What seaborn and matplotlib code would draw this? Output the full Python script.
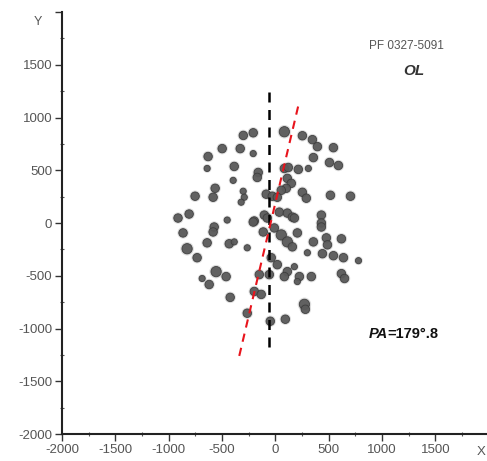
import matplotlib
matplotlib.use("Agg")
import matplotlib.pyplot as plt
import seaborn as sns
import pandas as pd
from matplotlib.ticker import MultipleLocator, FixedLocator

# Galaxy positions in the cluster field (x, y) and relative marker size class
x_pos = [-300, -207, -498, -329, -207, -630, -639, -385, -160, -169, -395, -564, -583,
         -301, -291, -320, -752, -85, -28, -912, -808, -451, -103, -197,
         85, 254, 348, 395, 545, 357, 508, 592, 85, 122, 216, 310, 113, 150, 103, 56,
         254, 291, 517, 705, 19, 38, 113, 160, 432, 432, -75, -207,
         -573, -583, -865, -639, -432, -385, -827, -733, -263, -113, -38, -555, -461,
         -686, -620, -150, -423, -197, -132, -263, -47,
         179, -9, 56, 207, 113, 160, 432, 357, 479, 489, 620, 301, 442, 545, 639, 780,
         19, 179, 113, -56, 85, 226, 338, 207, 620, 649, 273, 282, 94]
y_pos = [830, 855, 705, 705, 658, 630, 517, 536, 479, 432, 404, 329, 244,
         301, 244, 197, 254, 273, 254, 47, 85, 28, 75, 19,
         865, 827, 790, 724, 714, 620, 573, 545, 517, 526, 508, 517, 423, 376, 329, 310,
         291, 235, 263, 254, 244, 103, 94, 56, 75, 0, 47, 9,
         -38, -85, -94, -188, -197, -179, -244, -329, -235, -85, -329, -461, -508,
         -526, -583, -489, -705, -649, -677, -855, -931,
         47, -47, -113, -94, -179, -226, -38, -179, -141, -207, -150, -282, -291, -310, -329, -357,
         -395, -414, -461, -489, -508, -508, -508, -555, -480, -526, -771, -818, -912]
size_cls = [2, 2, 2, 2, 1, 2, 1, 2, 2, 2, 1, 2, 2,
            1, 1, 1, 2, 2, 2, 2, 2, 1, 2, 2,
            3, 2, 2, 2, 2, 2, 2, 2, 2, 2, 2, 1, 2, 2, 2, 2,
            2, 2, 2, 2, 2, 2, 2, 2, 2, 2, 2, 2,
            2, 2, 2, 2, 2, 1, 3, 2, 1, 2, 2, 3, 2,
            1, 2, 2, 2, 2, 2, 2, 2,
            2, 2, 3, 2, 3, 2, 2, 2, 2, 2, 2, 1, 2, 2, 2, 1,
            2, 1, 2, 2, 2, 2, 2, 1, 2, 2, 3, 2, 2]

# Orientation lines: reference vertical and major-axis direction (PA)
vline_x = [-55, -55]
vline_y = [-1180, 1280]
pa_x = [-338, 226]
pa_y = [-1260, 1156]

x_ticks = [-2000, -1500, -1000, -500, 0, 500, 1000, 1500]
y_ticks = [-2000, -1500, -1000, -500, 0, 500, 1000, 1500, 2000]
y_tick_labels = ["-2000", "-1500", "-1000", "-500", "0", "500", "1000", "1500", ""]

df = pd.DataFrame({"x": x_pos, "y": y_pos, "s": size_cls})

sns.set_style("white")
plt.rcParams["font.family"] = ["Liberation Sans", "DejaVu Sans"]
plt.rcParams["axes.unicode_minus"] = False

fig = plt.figure(figsize=(4.87, 4.61), dpi=100)
ax = fig.add_axes([62 / 487, 27 / 461, 425 / 487, 422 / 461])

# soft halo under each galaxy
sns.scatterplot(data=df, x="x", y="y", size="s", sizes=(40, 95), color="#a0a0a0",
                alpha=0.35, edgecolor="none", legend=False, ax=ax)
sns.scatterplot(data=df, x="x", y="y", size="s", sizes=(20, 55), color="#5a5a5a",
                alpha=0.95, edgecolor="#3c3c3c", linewidth=0.6, legend=False, ax=ax)

sns.lineplot(x=vline_x, y=vline_y, color="black", linestyle=(0, (4, 3)),
             linewidth=1.8, ax=ax, sort=False, estimator=None)
sns.lineplot(x=pa_x, y=pa_y, color="#e8141c", linestyle=(0, (4, 3)),
             linewidth=1.5, ax=ax, sort=False, estimator=None)

ax.set_xlim(-2000, 1985)
ax.set_ylim(-2000, 2000)

for side in ["top", "right"]:
    ax.spines[side].set_visible(False)
for side in ["left", "bottom"]:
    ax.spines[side].set_color("#222222")
    ax.spines[side].set_linewidth(1.5)

ax.xaxis.set_major_locator(FixedLocator(x_ticks))
ax.yaxis.set_major_locator(FixedLocator(y_ticks))
ax.set_yticklabels(y_tick_labels)
ax.xaxis.set_minor_locator(MultipleLocator(250))
ax.yaxis.set_minor_locator(MultipleLocator(250))
ax.tick_params(axis="both", which="both", bottom=True, left=True)
ax.tick_params(axis="both", which="major", direction="out", length=5, width=1,
               color="#333333", labelsize=9.5, labelcolor="#555555", pad=2)
ax.tick_params(axis="both", which="minor", direction="inout", length=3, width=0.8,
               color="#555555")
ax.set_xlabel("")
ax.set_ylabel("")

fig.text(38 / 487, 1 - 22 / 461, "Y", fontsize=9, color="#555555", ha="center", va="center")
fig.text(481 / 487, 1 - 452 / 461, "X", fontsize=9.5, color="#555555", ha="center", va="center")

ax.text(1230, 1675, "PF 0327-5091", fontsize=8.5, color="#555555", ha="center", va="center")
ax.text(1300, 1440, "OL", fontsize=11, color="#333333", style="italic",
        fontweight="bold", ha="center", va="center")
ax.text(1055, -1055, "PA", fontsize=10.5, color="#111111", style="italic", fontweight="bold",
        ha="right", va="center")
ax.text(1055, -1055, "=179°.8", fontsize=10.5, color="#111111", fontweight="bold",
        ha="left", va="center")

fig.savefig("out.png", dpi=100, facecolor="white")
